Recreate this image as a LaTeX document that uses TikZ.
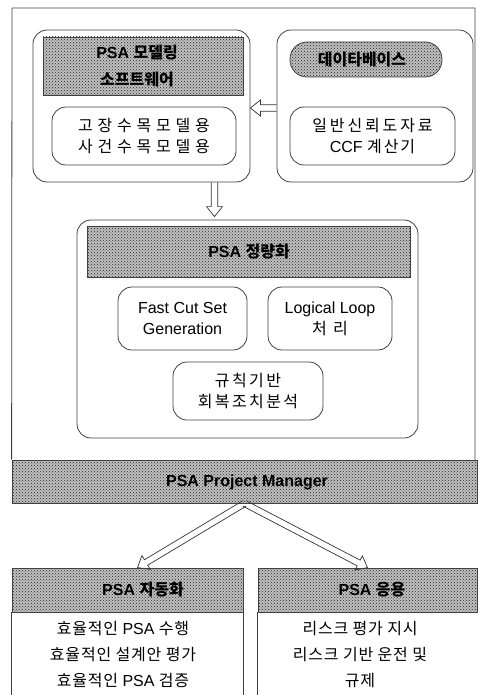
\documentclass[tikz,border=0pt]{standalone}
\usepackage{fontspec}
\setmainfont{Liberation Sans}
\newfontfamily\kr{Noto Sans CJK KR}
\usetikzlibrary{calc,patterns}
\newcommand\kor[2][0]{{\kr\addfontfeatures{LetterSpace=#1}#2}}
\begin{document}
\begin{tikzpicture}[x=1pt,y=-1pt,
  every node/.style={font=\fontsize{16}{21}\selectfont, align=center, inner sep=0pt},
  panel/.style={draw=black!75, line width=0.8pt, rounded corners=14pt},
  shadebox/.style={draw=black!75, line width=0.8pt, preaction={fill=black!25}, pattern=crosshatch dots, pattern color=black!85},
  hdr/.style={font=\fontsize{16}{27}\selectfont\bfseries},
  body/.style={font=\fontsize{16}{26}\selectfont},
  edge/.style={draw=black!75, line width=0.8pt},
  hollow/.style={draw=black!80, line width=0.7pt, line join=miter, to path={
    let \p1=(\tikztostart), \p2=(\tikztotarget),
        \n1={atan2(\y2-\y1,\x2-\x1)}, \n2={veclen(\x2-\x1,\y2-\y1)-10pt},
        \n3={\n1+90}, \p3=($(\p1)+(\n1:\n2)$) in
    ($(\p1)+(\n3:3.2pt)$) -- ($(\p3)+(\n3:3.2pt)$) -- ($(\p3)+(\n3:8pt)$) -- (\p2)
    -- ($(\p3)+(\n3:-8pt)$) -- ($(\p3)+(\n3:-3.2pt)$) -- ($(\p1)+(\n3:-3.2pt)$) \tikztonodes}}
]
\useasboundingbox (0,0) rectangle (477,695);

% top-left panel
\node[panel, minimum width=217pt, minimum height=152pt] (mod) at (141.5,106) {};
\node[shadebox, minimum width=200pt, minimum height=58pt] (modh) at (143,66) {};
\node[hdr] (modht) at (137,66) {PSA \kor{모델링}\\\kor{소프트웨어}};
\node[panel, minimum width=184pt, minimum height=58pt] (modsub) at (144,136) {\kor[30]{고장수목모델용}\\\kor[30]{사건수목모델용}};

% top-right panel
\node[panel, minimum width=196pt, minimum height=152pt] (db) at (375,106) {};
\node[shadebox, rounded corners=17pt, minimum width=152pt, minimum height=35pt] (dbh) at (366,59.5) {};
\node[hdr] (dbht) at (362,59.5) {\kor{데이타베이스}};
\node[panel, minimum width=165pt, minimum height=58pt] (dbsub) at (372.5,136) {\kor[18]{일반신뢰도자료}\\CCF \kor[12]{계산기}};

% quantification panel
\node[panel, minimum width=341pt, minimum height=218pt] (quant) at (247.5,329) {};
\node[shadebox, minimum width=323pt, minimum height=51pt] (quanth) at (248.5,251.5) {};
\node[hdr] (quantht) at (249,251.5) {PSA \kor{정량화}};
\node[panel, minimum width=129pt, minimum height=63pt] (fcs) at (182.5,318.5) {Fast Cut Set\\Generation};
\node[panel, minimum width=124pt, minimum height=63pt] (ll) at (330,318.5) {Logical Loop\\\kor[40]{처리}};
\node[panel, minimum width=150pt, minimum height=58pt] (rule) at (248,391) {\kor[15]{규칙기반}\\\kor[15]{회복조치분석}};

% project manager band
\node[shadebox, minimum width=465pt, minimum height=43pt] (pm) at (244.5,481.5) {};
\node[hdr] (pmt) at (247,482) {PSA Project Manager};

% outer frame
\draw[edge] (pm.north west) -- (12,8) -- (475,8) -- (475,460);

% bottom boxes
\node[shadebox, minimum width=231pt, minimum height=44pt] (autoh) at (127.5,590) {};
\node[hdr] (autoht) at (143,590) {PSA \kor{자동화}};
\node[shadebox, minimum width=219pt, minimum height=44pt] (apph) at (367.5,590) {};
\node[hdr] (appht) at (372,590) {PSA \kor{응용}};
\draw[edge] (autoh.south west) -- ++(0,83);
\draw[edge] (autoh.south east) -- ++(0,83);
\draw[edge] (apph.south west) -- ++(0,83);
\node[body] (autot) at (123,654) {\kor[5]{효율적인} PSA \kor[5]{수행}\\\kor[5]{효율적인 설계안 평가}\\\kor[5]{효율적인} PSA \kor[5]{검증}};
\node[body] (appt) at (360,654) {\kor[5]{리스크 평가 지시}\\\kor[5]{리스크 기반 운전 및}\\\kor[5]{규제}};

% arrows
\coordinate (downstart) at ([xshift=73pt]mod.south);
\coordinate (downend) at ([xshift=-33pt,yshift=3pt]quant.north);
\draw[hollow] ([yshift=-2pt]db.west) to ([yshift=-2pt]mod.east);
\draw[hollow] (downstart) to (downend);
\draw[hollow] (pm.south) to ([xshift=10pt]autoh.north);
\draw[hollow] (pm.south) to (apph.north);
\end{tikzpicture}
\end{document}
